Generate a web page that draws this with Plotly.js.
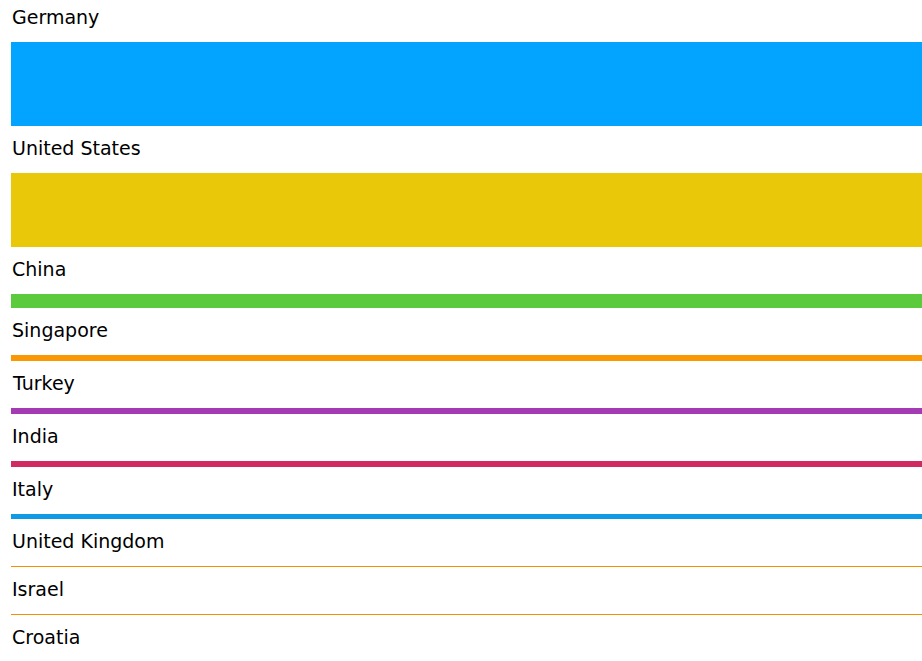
<!DOCTYPE html>
<html>
<head>
<meta charset="utf-8">
<script src="https://cdn.plot.ly/plotly-3.0.1.min.js"></script>
<style>html,body{margin:0;padding:0;background:#fff;}#chart{width:922px;height:661px;}</style>
</head>
<body>
<div id="chart"></div>
<script>
// Data
var countries = ["Germany","United States","China","Singapore","Turkey","India","Italy","United Kingdom","Israel","Croatia"];
var values = [84, 74, 14.4, 5.8, 5.8, 5.8, 5.6, 0.9, 0.9, 0.8];
var colors = ["#02A4FF","#E9C80A","#5BCA3C","#F99800","#A43AB4","#D02A62","#0F9AE6","#F29100","#F29100","#F29100"];

// Layout helpers (pixel-like units on the y axis)
var W = 922, H = 661;
var firstTop = 42, gap = 47, labelOffset = 25, barLeft = 11;

var centers = [], tops = [];
var cursor = firstTop;
for (var i = 0; i < values.length; i++) {
  tops.push(cursor);
  centers.push(cursor + values[i] / 2);
  cursor += values[i] + gap;
}

var trace = {
  type: "bar",
  orientation: "h",
  y: centers,
  x: countries.map(function(){ return W * 2; }),
  base: barLeft,
  width: values,
  marker: { color: colors, line: { width: 0 } },
  hoverinfo: "skip"
};

var annotations = countries.map(function(c, i){
  return {
    x: barLeft - 1, y: tops[i] - labelOffset,
    xref: "x", yref: "y",
    text: c, showarrow: false,
    xanchor: "left", yanchor: "middle",
    font: { family: "DejaVu Sans", size: 19, color: "#000" }
  };
});

var layout = {
  width: W, height: H,
  margin: { l: 0, r: 0, t: 0, b: 0, pad: 0 },
  paper_bgcolor: "#fff", plot_bgcolor: "#fff",
  showlegend: false,
  xaxis: { range: [0, W], visible: false, fixedrange: true },
  yaxis: { range: [H, 0], visible: false, fixedrange: true },
  annotations: annotations,
  bargap: 0
};

Plotly.newPlot("chart", [trace], layout, { displayModeBar: false, staticPlot: true });
</script>
</body>
</html>
